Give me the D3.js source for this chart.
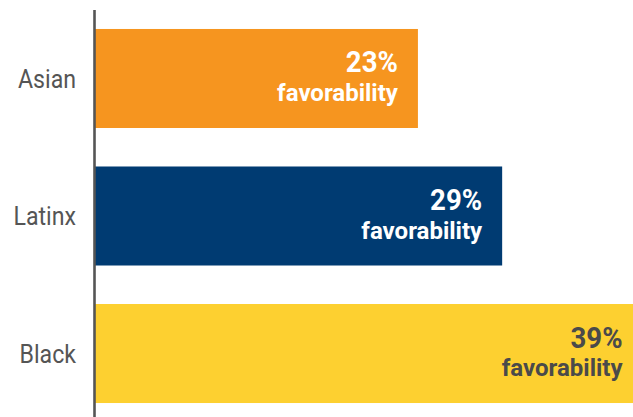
<!DOCTYPE html>
<html>
<head>
<meta charset="utf-8">
<script src="https://cdn.jsdelivr.net/npm/d3@7"></script>
<style>
  html, body { margin: 0; padding: 0; background: #fff; }
  svg { display: block; }
</style>
</head>
<body>
<svg id="chart" width="633" height="417"></svg>
<script>
// Favorability by group
const groups = ["Asian", "Latinx", "Black"];
const favorability = [23, 29, 39];
const barColors = ["#F6951F", "#003B72", "#FDD030"];
const labelColors = ["#ffffff", "#ffffff", "#4a4a4a"];

const svg = d3.select("#chart");
const W = 633, H = 417;

const x = d3.scaleLinear().domain([0, 40]).range([95, 95 + 40 * 14.04]);
const y = d3.scaleBand().domain(groups).range([10, 422])
  .paddingInner(0.28).paddingOuter(0.138);

const rows = groups.map((g, i) => ({ g, v: favorability[i], c: barColors[i], t: labelColors[i] }));

// Bars
svg.append("g").selectAll("rect").data(rows).join("rect")
  .attr("x", x(0))
  .attr("y", d => y(d.g))
  .attr("width", d => x(d.v) - x(0))
  .attr("height", y.bandwidth())
  .attr("fill", d => d.c);

// Vertical axis line with group names
const yAxis = d3.axisLeft(y).tickSize(0).tickPadding(0);
const ga = svg.append("g").attr("transform", "translate(94.5,0)").call(yAxis);
ga.select(".domain").attr("stroke", "#555").attr("stroke-width", 2.6)
  .attr("d", `M0,10V${H}`);
ga.selectAll(".tick text")
  .attr("font-family", "Roboto, sans-serif")
  .attr("font-size", 26)
  .attr("fill", "#555")
  .attr("x", 0)
  .attr("dy", "0.36em")
  .attr("transform", "translate(-18.5,0) scale(0.89,1)");

// Value labels inside bars
const lab = svg.append("g").selectAll("g").data(rows).join("g")
  .attr("transform", d => `translate(${x(d.v) - 20},${y(d.g) + y.bandwidth() / 2})`);

lab.append("text")
  .attr("text-anchor", "end")
  .attr("font-family", "Roboto, sans-serif")
  .attr("font-weight", 700)
  .attr("font-size", 30)
  .attr("fill", d => d.t)
  .attr("y", -6)
  .attr("transform", "scale(0.92,1)")
  .text(d => d.v + "%");

lab.append("text")
  .attr("text-anchor", "end")
  .attr("font-family", "Roboto, sans-serif")
  .attr("font-weight", 700)
  .attr("font-size", 24)
  .attr("fill", d => d.t)
  .attr("y", 22.5)
  .text("favorability");
</script>
</body>
</html>
